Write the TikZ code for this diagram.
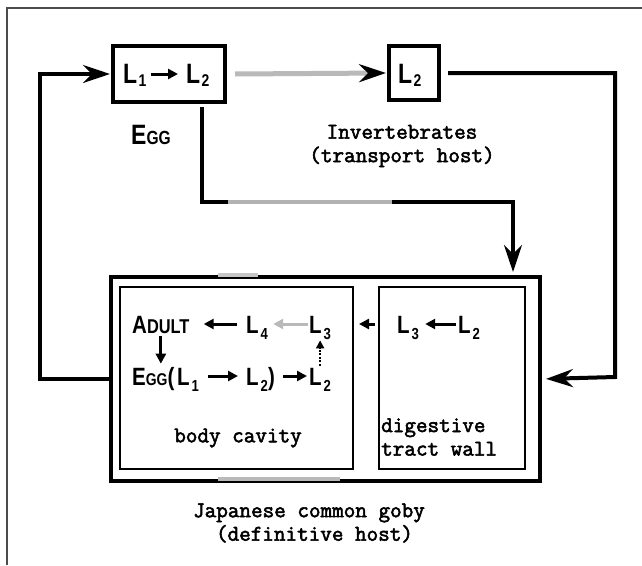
\documentclass[tikz,border=0pt]{standalone}
\usepackage{fontspec}
\newfontfamily\lsans[FakeStretch=0.82]{Liberation Sans}
\newfontfamily\tmono[FakeBold=2.4]{Latin Modern Mono}
\usetikzlibrary{arrows.meta}
\newcommand\lsub[1]{\kern1.5pt\raisebox{-3pt}{\fontsize{17}{17}\selectfont #1}}
\newcommand\lsubi[1]{\kern2pt\raisebox{-6pt}{\fontsize{16}{16}\selectfont #1}}
\begin{document}
\begin{tikzpicture}[x=1pt,y=-1pt,
  lab/.style={font=\lsans\bfseries\fontsize{28}{28}\selectfont, inner sep=0pt},
  ilab/.style={font=\lsans\bfseries\fontsize{25}{25}\selectfont, inner sep=0pt},
  mono/.style={font=\fontsize{22.5}{23.5}\tmono, inner sep=0pt},
  heavy/.style={line width=4pt},
  med/.style={line width=3.5pt},
  thinb/.style={line width=2pt},
  bigtip/.style={-{Stealth[length=27pt,width=18pt,inset=9pt]}},
  txtarrow/.style={line width=3pt,-{Triangle[length=10pt,width=10pt]}},
  grayarrow/.style={line width=3pt,gray!55,-{Triangle[length=10pt,width=10pt]}},
  dotarrow/.style={line width=2.5pt,dash pattern=on 2pt off 1.5pt,-{Triangle[length=8pt,width=8pt]}}
]
\useasboundingbox (0,0) rectangle (642,565);
% frame
\draw[line width=1.2pt, black!70] (642,8) -- (7,8) -- (7,565);

% top boxes
\node[heavy, draw, minimum width=112pt, minimum height=56pt, inner sep=0pt, anchor=north west] (A) at (111,44) {};
\node[heavy, draw, minimum width=50pt, minimum height=54pt, inner sep=0pt, anchor=north west] (B) at (387,44) {};
\node[lab, anchor=base west] (a1) at (123,83) {L\lsub{1}};
\node[lab, anchor=base west] (a2) at (186,83) {L\lsub{2}};
\draw[txtarrow, shorten <=4pt, shorten >=8pt] (a1.east |- A.center) -- (a2.west |- A.center);
\node[lab, anchor=base west] (b1) at (398,83) {L\lsub{2}};

\node[lab, anchor=base west] (egg) at (131,144) {E{\fontsize{19}{19}\selectfont GG}};
\node[mono, align=center] (inv) at (402,146) {Invertebrates\\(transport host)};

% outer and inner boxes
\node[heavy, draw, minimum width=429pt, minimum height=204pt, inner sep=0pt, anchor=north west] (C) at (109,275) {};
\node[thinb, draw, minimum width=233pt, minimum height=182pt, inner sep=0pt, anchor=north west] (D) at (119,286) {};
\node[thinb, draw, minimum width=146pt, minimum height=182pt, inner sep=0pt, anchor=north west] (E) at (378,286) {};
\draw[gray!45, line width=4pt] (218,275) -- (258,275);
\draw[gray!55, line width=4pt] (218,479) -- (340,479);

% connectors of the cycle
\draw[line width=5pt, gray!55, -{Stealth[length=27pt,width=18pt,inset=9pt,color=black]}] ([xshift=8pt]A.east) -- ([xshift=-1pt]B.west);
\draw[heavy, bigtip, shorten >=4pt] ([xshift=7pt]B.east) -| (615,377) -- (C.east);
\draw[heavy, bigtip, shorten >=1pt] (C.west) -- ++(-69,0) |- (A.west);
\coordinate (d0) at (202,107);
\coordinate (d1) at (513,202);
\draw[med, bigtip, shorten >=3pt] (d0) |- (d1) -- (C.north -| d1);
\draw[gray!60, line width=3.5pt] (228,202) -- (392,202);

% body cavity
\coordinate (r1) at (0,324);
\coordinate (r2) at (0,376);
\node[ilab, anchor=base west] (ad) at (132,333) {A{\fontsize{20}{20}\selectfont DULT}};
\node[ilab, anchor=base west] (l4) at (246,333) {L\lsubi{4}};
\node[ilab, anchor=base west] (l3) at (309,333) {L\lsubi{3}};
\draw[txtarrow, shorten <=9pt, shorten >=14pt] (l4.west |- r1) -- (ad.east |- r1);
\draw[grayarrow, shorten <=1pt, shorten >=5pt] (l3.west |- r1) -- (l4.east |- r1);
\node[ilab, anchor=base west] (eg) at (132,385) {E{\fontsize{17}{17}\selectfont GG}(};
\node[ilab, anchor=base west] (e1) at (177,385) {L\lsubi{1}};
\node[ilab, anchor=base west] (e2) at (246,385) {L\lsubi{2})};
\node[ilab, anchor=base west] (e3) at (309,385) {L\lsubi{2}};
\draw[txtarrow, shorten <=3pt, shorten >=3pt] (ad.south) -- (ad.south |- eg.north);
\draw[txtarrow, shorten <=9pt, shorten >=8pt] (e1.east |- r2) -- (e2.west |- r2);
\draw[txtarrow, shorten <=8pt, shorten >=2pt] (e2.east |- r2) -- (e3.west |- r2);
\draw[dotarrow, shorten <=2pt, shorten >=1pt] (e3.north) -- (l3.south);
\node[mono] (bc) at (238,438) {body cavity};

% digestive tract wall
\node[mono, align=left, anchor=west] (dg) at (381,437) {digestive\\tract wall};

% host label
\node[mono, align=center] (jp) at (309,523) {Japanese common goby\\\hspace*{11pt}(definitive host)};

\node[ilab, anchor=base west] (m3) at (397,333) {L\lsubi{3}};
\node[ilab, anchor=base west] (m2) at (458,333) {L\lsubi{2}};
\draw[txtarrow, shorten <=2pt, shorten >=6pt] (m2.west |- r1) -- (m3.east |- r1);
\draw[txtarrow, shorten <=3pt, shorten >=5pt] (E.west |- r1) -- (D.east |- r1);
\end{tikzpicture}
\end{document}
